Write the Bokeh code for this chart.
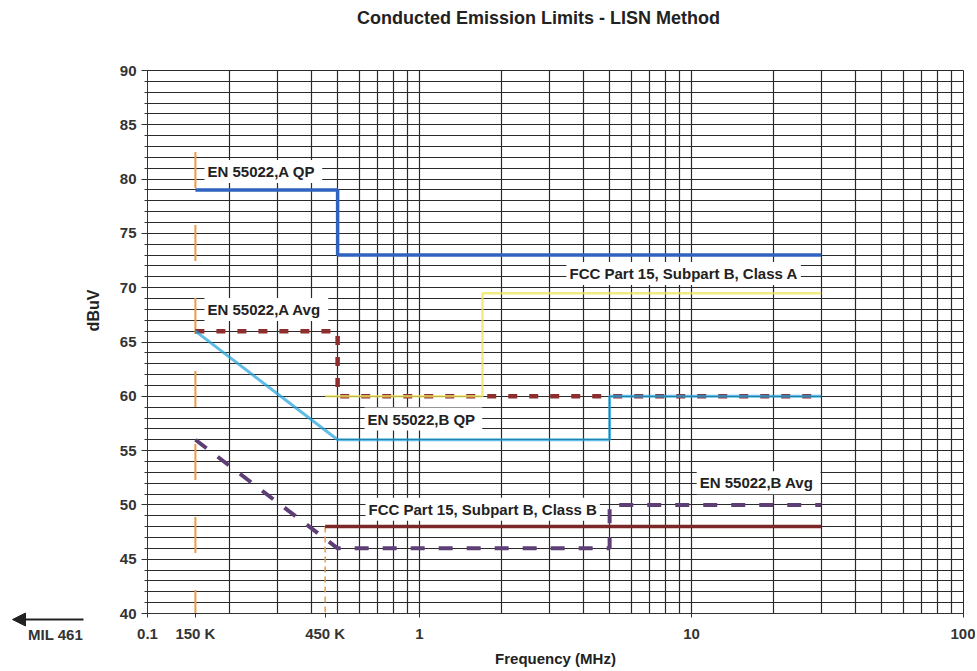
import math
from bokeh.plotting import figure
from bokeh.models import FixedTicker, Label, Arrow, NormalHead, Range1d
from bokeh.layouts import row, column
from bokeh.embed import file_html
from bokeh.resources import INLINE

# ---- data (frequency in MHz, level in dBuV) ----
en_a_qp_f = [0.15, 0.5, 0.5, 30]
en_a_qp_l = [79, 79, 73, 73]

en_a_avg_f = [0.15, 0.5, 0.5, 30]
en_a_avg_l = [66, 66, 60, 60]

en_b_qp_f = [0.15, 0.5, 5, 5, 30]
en_b_qp_l = [66, 56, 56, 60, 60]

en_b_avg_f = [0.15, 0.5, 5, 5, 30]
en_b_avg_l = [56, 46, 46, 50, 50]

fcc_a_f = [0.45, 1.705, 1.705, 30]
fcc_a_l = [60, 60, 69.5, 69.5]

fcc_b_f = [0.45, 30]
fcc_b_l = [48, 48]

mark150_f = [0.15, 0.15]
mark150_l = [82.5, 40]
mark450_f = [0.45, 0.45]
mark450_l = [48, 40]

x_ticks = [0.1, 0.15, 0.45, 1, 10, 100]
x_tick_labels = ["0.1", "150 K", "450 K", "1", "10", "100"]
x_grid = [0.1, 0.2, 0.3, 0.4, 0.5, 0.6, 0.7, 0.8, 0.9,
          1, 2, 3, 4, 5, 6, 7, 8, 9,
          10, 20, 30, 40, 50, 60, 70, 80, 90, 100]
y_ticks = [40, 45, 50, 55, 60, 65, 70, 75, 80, 85, 90]
y_grid = list(range(40, 91))

FONT = "Liberation Sans"
TXT = "#222222"
W = 975
H = 669
TOP_H = 34
LEFT_W = 104


def no_align(f):
    try:
        f.frame_align = False
    except Exception:
        pass


# ---- top strip: title ----
top = figure(width=W, height=TOP_H, x_range=Range1d(0, W), y_range=Range1d(TOP_H, 0),
             output_backend="svg", toolbar_location=None, min_border=0, title=None,
             x_axis_location=None, y_axis_location=None)
top.grid.visible = False
top.outline_line_color = None
no_align(top)
top.add_layout(Label(x=538, y=17, text="Conducted Emission Limits - LISN Method",
                     text_font=FONT, text_font_style="bold", text_font_size="18px",
                     text_color=TXT, text_align="center", text_baseline="middle"))

# ---- left strip: y-axis title and the "MIL 461" arrow ----
side = figure(width=LEFT_W, height=H - TOP_H, x_range=Range1d(0, LEFT_W),
              y_range=Range1d(H, TOP_H), output_backend="svg", toolbar_location=None,
              min_border=0, title=None, x_axis_location=None, y_axis_location=None)
side.grid.visible = False
side.outline_line_color = None
no_align(side)
side.add_layout(Label(x=93, y=310, text="dBuV", angle=math.pi / 2, text_font=FONT,
                      text_font_style="bold", text_font_size="16px", text_color=TXT,
                      text_align="center", text_baseline="middle"))
side.add_layout(Arrow(x_start=83, y_start=619, x_end=12, y_end=619,
                      line_color="#222222", line_width=2,
                      end=NormalHead(size=13, fill_color="#222222", line_color="#222222")))
side.add_layout(Label(x=55, y=634, text="MIL 461", text_font=FONT,
                      text_font_style="bold", text_font_size="15px", text_color="#333333",
                      text_align="center", text_baseline="middle"))

# ---- main chart ----
p = figure(width=W - LEFT_W, height=H - TOP_H, x_axis_type="log",
           x_range=Range1d(0.1, 100), y_range=Range1d(40, 90),
           output_backend="svg", toolbar_location=None, title=None,
           min_border_left=147 - LEFT_W, min_border_right=12,
           min_border_top=70 - TOP_H, min_border_bottom=H - 614)
p.outline_line_color = "#2a2a2a"
p.background_fill_color = "white"
no_align(p)

# axes
p.xaxis.ticker = FixedTicker(ticks=x_ticks, minor_ticks=[])
p.xaxis.major_label_overrides = {t: s for t, s in zip(x_ticks, x_tick_labels)}
p.yaxis.ticker = FixedTicker(ticks=y_ticks, minor_ticks=y_grid)
for ax in (p.xaxis, p.yaxis):
    ax.axis_line_color = "#333333"
    ax.major_tick_line_color = "#333333"
    ax.minor_tick_line_color = "#333333"
    ax.major_tick_in = 0
    ax.minor_tick_in = 0
    ax.major_label_text_font = FONT
    ax.major_label_text_font_style = "bold"
    ax.major_label_text_font_size = "15px"
    ax.major_label_text_color = "#333333"
    ax.axis_label_text_font = FONT
    ax.axis_label_text_font_style = "bold"
    ax.axis_label_text_font_size = "15px"
    ax.axis_label_text_color = TXT
p.xaxis.major_tick_out = 4
p.xaxis.major_label_standoff = 7
p.xaxis.axis_label = "Frequency (MHz)"
p.xaxis.axis_label_standoff = 5
p.yaxis.major_tick_out = 6
p.yaxis.minor_tick_out = 3
p.yaxis.major_label_standoff = 5

# grid
p.xgrid.ticker = FixedTicker(ticks=x_grid)
p.ygrid.ticker = FixedTicker(ticks=y_grid)
for g in (p.xgrid, p.ygrid):
    g.grid_line_color = "#2a2a2a"
    g.grid_line_width = 1.2
    g.grid_line_alpha = 1.0

# lines
p.line(mark150_f, mark150_l, line_color="#ec9a45", line_width=2, line_dash="36 37")
p.line(mark450_f, mark450_l, line_color="#ec9a45", line_width=1.5, line_dash="6 4")
p.line(en_a_avg_f, en_a_avg_l, line_color="#8e2d2d", line_width=4.5, line_dash="9 12")
p.line(fcc_a_f, fcc_a_l, line_color="#ede45c", line_width=2.5, line_alpha=0.75)
p.line(en_b_qp_f, en_b_qp_l, line_color="#22a4dc", line_width=3, line_alpha=0.72)
p.line(en_a_qp_f, en_a_qp_l, line_color="#2f63bf", line_width=3.5)
p.line(fcc_b_f, fcc_b_l, line_color="#7c2828", line_width=3.5)
p.line(en_b_avg_f, en_b_avg_l, line_color="#5d3f76", line_width=4, line_dash="14 14")


def tag(x, y, text):
    p.add_layout(Label(x=x, y=y, text=text, text_font=FONT, text_font_style="bold",
                       text_font_size="15px", text_color=TXT, text_align="left",
                       text_baseline="middle", background_fill_color="white",
                       background_fill_alpha=1.0, padding=3))


tag(0.162, 80.7, "EN 55022,A  QP")
tag(0.162, 68.0, "EN 55022,A  Avg")
tag(3.47, 71.3, "FCC Part 15, Subpart B, Class A")
tag(0.628, 57.9, "EN 55022,B  QP")
tag(0.633, 49.6, "FCC Part 15, Subpart B, Class B")
tag(10.45, 52.05, "EN 55022,B  Avg")

layout = column(top, row(side, p, spacing=0), spacing=0)
open("out.html", "w").write(file_html(layout, INLINE))
